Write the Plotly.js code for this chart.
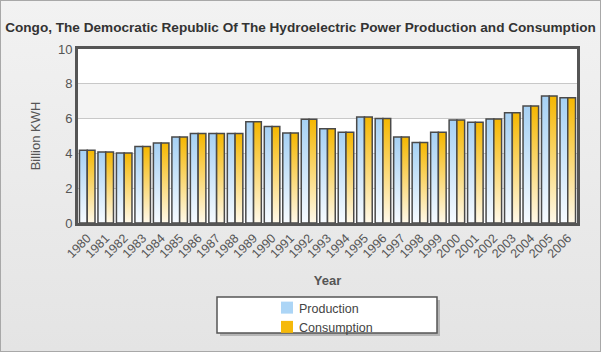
<!DOCTYPE html>
<html>
<head>
<meta charset="utf-8">
<script src="https://cdn.plot.ly/plotly-3.0.1.min.js"></script>
<style>
html,body{margin:0;padding:0;background:#fff;}
#chart{width:599px;height:350px;border:1px solid #a8a8a8;background:linear-gradient(#f2f2f2,#e4e4e4);box-shadow:1px 1px 2px #bbb;}
</style>
</head>
<body>
<div id="chart"></div>
<script>
const years = ["1980","1981","1982","1983","1984","1985","1986","1987","1988","1989","1990","1991","1992","1993","1994","1995","1996","1997","1998","1999","2000","2001","2002","2003","2004","2005","2006"];
const production = [4.18,4.08,4.02,4.39,4.6,4.94,5.15,5.15,5.15,5.82,5.54,5.17,5.96,5.42,5.21,6.09,6.0,4.94,4.62,5.21,5.92,5.79,5.98,6.34,6.72,7.3,7.2];
const consumption = [4.18,4.08,4.02,4.39,4.6,4.94,5.15,5.15,5.15,5.82,5.54,5.17,5.96,5.42,5.21,6.09,6.0,4.94,4.62,5.21,5.92,5.79,5.98,6.34,6.72,7.3,7.2];
const yTicks = [0,2,4,6,8,10];

const font = "Liberation Sans, DejaVu Sans, sans-serif";
const traces = [
  {type:"bar", name:"Production", x:years, y:production,
   marker:{color:"#acd5f6", line:{color:"#4a4a4a", width:1.5}}},
  {type:"bar", name:"Consumption", x:years, y:consumption,
   marker:{color:"#f5b90a", line:{color:"#4a4a4a", width:1.5}}}
];
const W = 599, H = 350;
const PL = 77, PR = 576, PT = 48, PB = 222;
const pw = PR-PL, ph = PB-PT;
const lx0 = (216-PL)/pw, lx1 = (436-PL)/pw;
const ly0 = (PB-296)/ph, ly1 = (PB-332)/ph;
const layout = {
  width:W, height:H,
  margin:{l:PL, r:W-PR, t:PT, b:H-PB},
  paper_bgcolor:"rgba(0,0,0,0)", plot_bgcolor:"#ffffff",
  barmode:"group", bargap:0.16, bargroupgap:0,
  showlegend:true,
  title:{text:"<b>Congo, The Democratic Republic Of The Hydroelectric Power Production and Consumption</b>",
    font:{family:font, size:13.6, color:"#333"}, x:0.5, xref:"container", xanchor:"center", y:1-26/H, yref:"container", yanchor:"middle"},
  xaxis:{type:"category", tickangle:-45, tickfont:{family:font, size:12.5, color:"#555"}, automargin:false,
    showline:true, mirror:true, linecolor:"#555", linewidth:3, ticks:"", showgrid:false,
    title:{text:"<b>Year</b>", font:{family:font, size:13, color:"#555"}}},
  yaxis:{range:[0,10], tickvals:yTicks, tickfont:{family:font, size:13, color:"#555"}, automargin:false,
    showline:true, mirror:true, linecolor:"#555", linewidth:3, ticks:"", gridcolor:"#c8c8c8", gridwidth:1,
    zeroline:false,
    title:{text:"Billion KWH", font:{family:font, size:13, color:"#555"}}},
  shapes:[
    {type:"rect", xref:"paper", yref:"y", x0:0, x1:1, y0:6, y1:8, fillcolor:"#f4f4f4", line:{width:0}, layer:"below"},
    {type:"rect", xref:"paper", yref:"y", x0:0, x1:1, y0:2, y1:4, fillcolor:"#f4f4f4", line:{width:0}, layer:"below"},
    {type:"rect", xref:"paper", yref:"paper", x0:lx0+0.006, x1:lx1+0.006, y0:ly0-0.017, y1:ly1-0.017, fillcolor:"#b5b5b5", line:{width:0}, layer:"below"},
    {type:"rect", xref:"paper", yref:"paper", x0:lx0, x1:lx1, y0:ly0, y1:ly1, fillcolor:"#ffffff", line:{color:"#555", width:1.5}, layer:"below"}
  ],
  legend:{x:(266-PL)/pw, xanchor:"left", yref:"container", y:1-292/H, yanchor:"top", orientation:"v",
    bgcolor:"rgba(0,0,0,0)", borderwidth:0, font:{family:font, size:12.5, color:"#444"},
    itemwidth:30, tracegroupgap:0, traceorder:"normal"}
};
Plotly.newPlot("chart", traces, layout, {staticPlot:true, displayModeBar:false}).then(function(gd){
  const svg = gd.querySelector(".main-svg");
  const ns = "http://www.w3.org/2000/svg";
  let defs = svg.querySelector("defs");
  if(!defs){defs = document.createElementNS(ns,"defs"); svg.insertBefore(defs, svg.firstChild);}
  const grads = [["gProd","#a6d1f4","#f7fbff"],["gCons","#f5b700","#fff9ea"]];
  grads.forEach(function(g){
    const lg = document.createElementNS(ns,"linearGradient");
    lg.setAttribute("id", g[0]); lg.setAttribute("x1","0"); lg.setAttribute("y1","0"); lg.setAttribute("x2","0"); lg.setAttribute("y2","1");
    [[0,g[1]],[1,g[2]]].forEach(function(s){
      const st = document.createElementNS(ns,"stop");
      st.setAttribute("offset", s[0]); st.setAttribute("stop-color", s[1]);
      lg.appendChild(st);
    });
    defs.appendChild(lg);
  });
  gd.querySelectorAll(".barlayer .trace.bars").forEach(function(t, i){
    t.querySelectorAll(".point path").forEach(function(p){
      p.style.fill = "url(#" + grads[i][0] + ")";
    });
  });
  gd.querySelectorAll(".legend .legendpoints path").forEach(function(p){
    p.style.strokeWidth = "0";
  });
  gd.querySelectorAll(".legend .legendtext").forEach(function(t){
    t.setAttribute("x", "32");
  });
  const xt = gd.querySelector(".g-xtitle text");
  if(xt){ xt.setAttribute("y", String(parseFloat(xt.getAttribute("y")) + 10)); }
});
</script>
</body>
</html>
